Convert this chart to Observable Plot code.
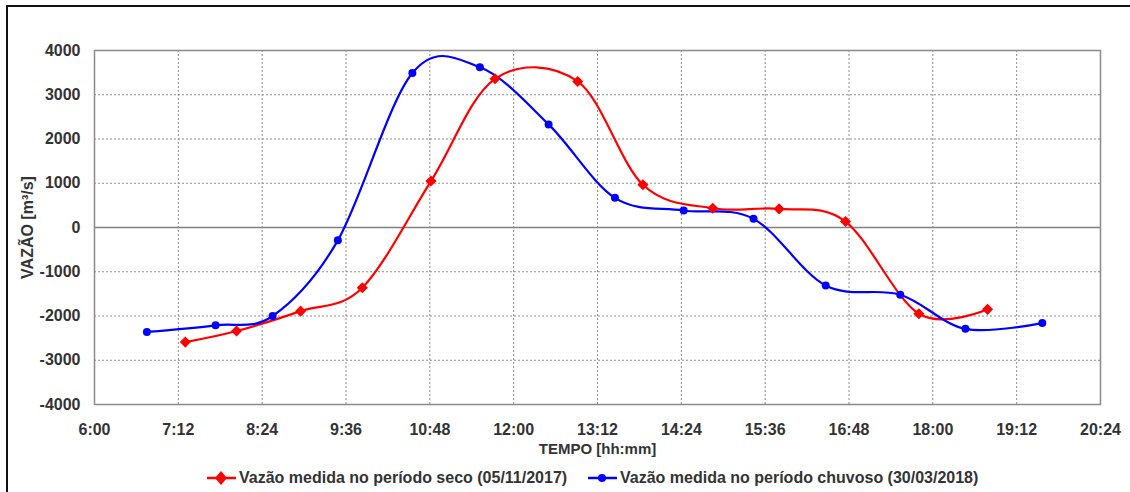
<!DOCTYPE html>
<html>
<head>
<meta charset="utf-8">
<script src="https://cdn.jsdelivr.net/npm/d3@7"></script>
<script src="https://cdn.jsdelivr.net/npm/@observablehq/plot@0.6"></script>
<style>
  html, body { margin: 0; padding: 0; background: #fff; }
  body { width: 1130px; height: 492px; position: relative; overflow: hidden; font-family: "Liberation Sans", Arial, sans-serif; }
  #border { position: absolute; left: 6px; top: 5px; right: -10px; bottom: -10px; border-top: 2px solid #111; border-left: 2px solid #111; pointer-events: none; }
  #legend { position: absolute; left: 0; top: 460px; width: 1130px; height: 36px; }
  .item { position: absolute; top: 0; height: 36px; display: flex; align-items: center; font: bold 16px "Liberation Sans", Arial, sans-serif; color: #333; white-space: nowrap; }
  .item svg { margin-right: 3px; }
</style>
</head>
<body>
<div id="chart"></div>
<div id="legend"></div>
<div id="border"></div>
<script>
// Dry season series (05/11/2017)
const secoTimes  = ["7:18","8:02","8:57","9:50","10:49","11:44","12:55","13:51","14:51","15:48","16:45","17:48","18:47"];
const secoValues = [-2590, -2340, -1890, -1360, 1050, 3360, 3300, 965, 435, 420, 135, -1950, -1850];
// Rainy season series (30/03/2018)
const chuvTimes  = ["6:45","7:44","8:33","9:29","10:33","11:31","12:30","13:27","14:26","15:26","16:28","17:32","18:28","19:34"];
const chuvValues = [-2360, -2210, -2000, -290, 3490, 3620, 2330, 670, 385, 195, -1310, -1520, -2290, -2160];
// Axis ticks
const xTickLabels = ["6:00","7:12","8:24","9:36","10:48","12:00","13:12","14:24","15:36","16:48","18:00","19:12","20:24"];
const yTicks = [-4000,-3000,-2000,-1000,0,1000,2000,3000,4000];
const seriesNames = ["Vazão medida no período seco (05/11/2017)", "Vazão medida no período chuvoso (30/03/2018)"];
const seriesColors = ["#ff0000", "#0000ff"];

const toMin = s => { const [h, m] = s.split(":").map(Number); return h * 60 + m; };
const fmt = v => `${Math.floor(v / 60)}:${String(Math.round(v % 60)).padStart(2, "0")}`;

const seco = secoTimes.map((t, i) => ({t: toMin(t), v: secoValues[i]}));
const chuv = chuvTimes.map((t, i) => ({t: toMin(t), v: chuvValues[i]}));
const xTicks = xTickLabels.map(toMin);

const chart = Plot.plot({
  width: 1130,
  height: 460,
  marginLeft: 94,
  marginRight: 30,
  marginTop: 50,
  marginBottom: 56,
  style: {fontFamily: "'Liberation Sans', Arial, sans-serif", background: "#fff"},
  x: {domain: [xTicks[0], xTicks[xTicks.length - 1]], ticks: xTicks, tickFormat: fmt},
  y: {domain: [-4000, 4000], ticks: yTicks, tickFormat: d => String(d)},
  marks: [
    Plot.gridX(xTicks.slice(1, -1), {stroke: "#8c8c8c", strokeOpacity: 1, strokeDasharray: "2,2"}),
    Plot.gridY(yTicks.filter(d => d !== 0 && Math.abs(d) !== 4000), {stroke: "#8c8c8c", strokeOpacity: 1, strokeDasharray: "2,2"}),
    Plot.ruleY([0], {stroke: "#808080", strokeWidth: 1.5}),
    Plot.frame({stroke: "#8a8a8a", strokeWidth: 1.5}),
    Plot.axisX(xTicks, {tickSize: 0, tickPadding: 19, tickFormat: fmt, label: null, fontSize: 16, fontWeight: "bold", fill: "#333"}),
    Plot.axisY(yTicks, {tickSize: 0, tickPadding: 14, tickFormat: d => String(d), label: null, fontSize: 16, fontWeight: "bold", fill: "#333"}),
    Plot.text(["TEMPO [hh:mm]"], {frameAnchor: "bottom", dy: 49, fontSize: 15, fontWeight: "bold", fill: "#333"}),
    Plot.text(["VAZÃO [m³/s]"], {frameAnchor: "left", dx: -67, rotate: -90, textAnchor: "middle", lineAnchor: "middle", fontSize: 16, fontWeight: "bold", fill: "#333"}),
    Plot.line(seco, {x: "t", y: "v", stroke: seriesColors[0], strokeWidth: 2.2, curve: "cardinal", tension: 0}),
    Plot.line(chuv, {x: "t", y: "v", stroke: seriesColors[1], strokeWidth: 2.2, curve: "cardinal", tension: 0}),
    Plot.dot(seco, {x: "t", y: "v", fill: seriesColors[0], symbol: "diamond2", r: 5}),
    Plot.dot(chuv, {x: "t", y: "v", fill: seriesColors[1], symbol: "circle", r: 4})
  ]
});
document.getElementById("chart").appendChild(chart);

// Legend
const legend = document.getElementById("legend");
const lefts = [207, 588];
const shapes = [
  c => `<path d="M14,2 L20,9 L14,16 L8,9 Z" fill="${c}"/>`,
  c => `<circle cx="14" cy="9" r="4" fill="${c}"/>`
];
seriesNames.forEach((name, i) => {
  const el = document.createElement("div");
  el.className = "item";
  el.style.left = lefts[i] + "px";
  el.innerHTML = `<svg width="29" height="18"><line x1="0" x2="29" y1="9" y2="9" stroke="${seriesColors[i]}" stroke-width="2.5"/>${shapes[i](seriesColors[i])}</svg><span>${name}</span>`;
  legend.appendChild(el);
});
</script>
</body>
</html>
